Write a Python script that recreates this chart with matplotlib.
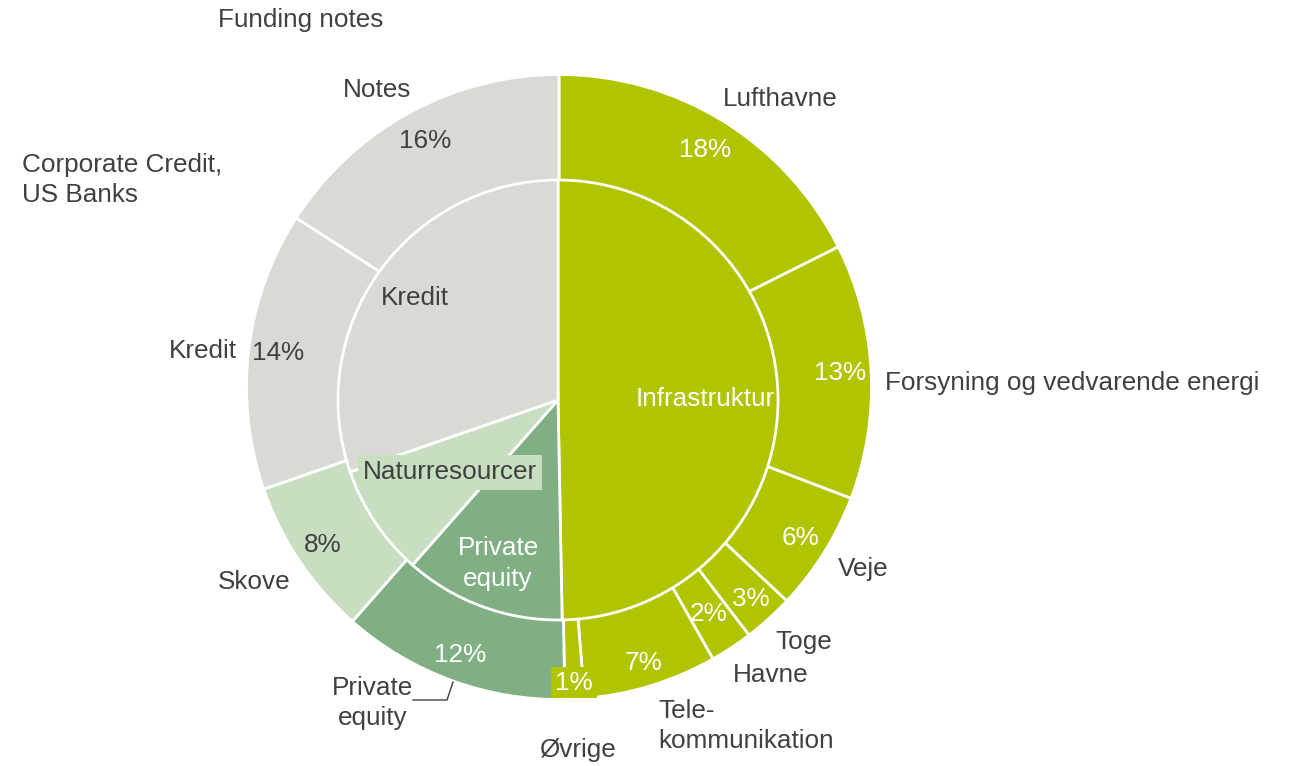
import numpy as np
import matplotlib
matplotlib.use("Agg")
import matplotlib.pyplot as plt

# ---- data (shares, labels show rounded values) ----
outer_names = ["Lufthavne", "Forsyning og vedvarende energi", "Veje", "Toge", "Havne",
               "Tele-\nkommunikation", "Øvrige", "Private\nequity", "Skove", "Kredit", "Notes"]
outer_vals = [17.6, 13.2, 6.2, 2.6, 2.2, 6.9, 1.0, 11.8, 8.2, 14.4, 15.9]
inner_names = ["Infrastruktur", "Private\nequity", "Naturresourcer", "Kredit"]
inner_vals = [49.7, 11.8, 8.2, 30.3]
extra_labels = ["Corporate Credit,\nUS Banks", "Funding notes"]

# ---- styles ----
LIME = "#B0C400"
PE = "#80AF83"
NAT = "#C8DEC1"
GREY = "#D9D9D6"
TXT = "#404040"
outer_colors = [LIME] * 7 + [PE, NAT, GREY, GREY]
inner_colors = [LIME, PE, NAT, GREY]
outer_pct_color = ["white"] * 8 + [TXT, TXT, TXT]
inner_txt_color = ["white", "white", TXT, TXT]

W, H = 1291, 766
plt.rcParams["font.family"] = ["Liberation Sans", "DejaVu Sans"]
FS = 18.8
LS = 1.36


def yy(p):
    # pixel row -> data y (axis points up)
    return H - p


fig = plt.figure(figsize=(W / 100, H / 100), dpi=100)
ax = fig.add_axes([0, 0, 1, 1])

oc = (559, yy(387))
orad = 312.5
ic = (558, yy(400))
irad = 220

ow, _ = ax.pie(outer_vals, colors=outer_colors, startangle=90, counterclock=False,
               center=oc, radius=orad, frame=True, normalize=True,
               wedgeprops=dict(edgecolor="white", linewidth=2))
iw, _ = ax.pie(inner_vals, colors=inner_colors, startangle=90, counterclock=False,
               center=ic, radius=irad, frame=True, normalize=True,
               wedgeprops=dict(edgecolor="white", linewidth=2))
ax.set_xlim(0, W)
ax.set_ylim(0, H)
ax.axis("off")


def mid_xy(w, c, r):
    a = np.deg2rad((w.theta1 + w.theta2) / 2)
    return c[0] + r * np.cos(a), c[1] + r * np.sin(a)


# percentage labels inside outer ring
pct_r = [0.89, 0.9, 0.91, 0.915, 0.87, 0.925, 0.947, 0.915, 0.91, 0.905, 0.895]
for w, v, col, f in zip(ow, outer_vals, outer_pct_color, pct_r):
    x, y = mid_xy(w, oc, orad * f)
    kw = {}
    if round(v) == 1:
        kw["bbox"] = dict(boxstyle="square,pad=0.15", fc=LIME, ec="none")
    ax.text(x, y, f"{round(v)}%", color=col, fontsize=FS, ha="center", va="center", **kw)

# inner labels
in_r = [0.67, 0.79, 0.59, 0.80]
for w, name, col, f in zip(iw, inner_names, inner_txt_color, in_r):
    x, y = mid_xy(w, ic, irad * f)
    kw = {}
    if name == "Naturresourcer":
        kw["bbox"] = dict(boxstyle="square,pad=0.2", fc=NAT, ec="none")
    ax.text(x, y, name, color=col, fontsize=FS, ha="center", va="center",
            linespacing=LS, **kw)

# outer category labels (layout)
outer_pos = [(780, 99, "center"), (885, 383, "left"), (838, 569, "left"),
             (775, 642, "left"), (733, 675, "left"), (658, 726, "left"),
             (577, 750, "center"), (373, 703, "center"), (254, 582, "center"),
             (203, 351, "center"), (377, 90, "center")]
for name, (x, y, ha) in zip(outer_names, outer_pos):
    ax.text(x, yy(y), name, color=TXT, fontsize=FS, ha=ha, va="center",
            linespacing=LS, multialignment="left" if ha == "left" else "center")

ax.text(22, yy(180), extra_labels[0], color=TXT, fontsize=FS, ha="left", va="center",
        linespacing=LS)
ax.text(218, yy(20), extra_labels[1], color=TXT, fontsize=FS, ha="left", va="center")

# leader line for private equity
ax.plot([453, 447, 413], [yy(682), yy(700), yy(700)], color=TXT, lw=1)

fig.savefig("out.png", dpi=100)
